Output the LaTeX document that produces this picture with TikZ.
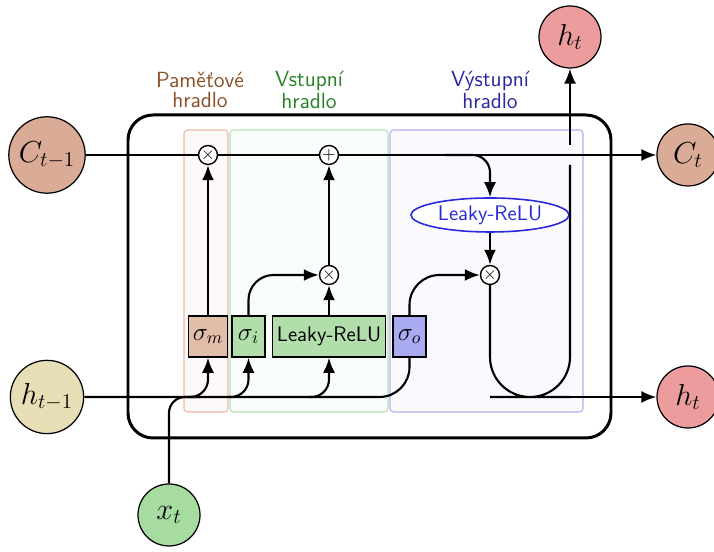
\documentclass[tikz,border=0pt]{standalone}
\usepackage{fontspec}
\usetikzlibrary{arrows.meta, shapes.geometric}

\definecolor{cellc}{RGB}{218,172,152}
\definecolor{hprev}{RGB}{232,222,182}
\definecolor{hnext}{RGB}{236,156,156}
\definecolor{xin}{RGB}{166,220,160}
\definecolor{memfill}{RGB}{226,190,170}
\definecolor{infill}{RGB}{178,222,172}
\definecolor{outfill}{RGB}{170,170,240}
\definecolor{memline}{RGB}{232,186,164}
\definecolor{inline}{RGB}{182,224,182}
\definecolor{outline}{RGB}{176,176,240}
\definecolor{memtext}{RGB}{140,80,40}
\definecolor{intext}{RGB}{40,130,40}
\definecolor{outtext}{RGB}{40,40,160}
\definecolor{reluc}{RGB}{40,40,220}

\begin{document}
\begin{tikzpicture}[line width=1.2pt, >={Latex[length=3mm,width=2.4mm]},
	state/.style={circle, draw, line width=0.7pt, minimum size=1.24cm, inner sep=3pt, font=\LARGE},
	op/.style={circle, draw, fill=white, inner sep=-1pt, minimum size=0.38cm, line width=0.8pt},
	gatebox/.style={rectangle, draw, rounded corners=2pt, line width=0.6pt},
	layer/.style={rectangle, draw, line width=0.9pt, minimum height=0.82cm, minimum width=0.66cm, inner sep=2.5pt},
	gatelabel/.style={align=center, font=\sffamily\fontsize{12.5}{11}\selectfont},
	cell/.style={rectangle, draw, rounded corners=0.5cm, line width=1.7pt}]
	\useasboundingbox (0,0) rectangle (14.28,11.04);
	
	\node (cell) at (7.39,5.51) [cell, minimum width=9.66cm, minimum height=6.46cm]{};
	\node (gm) at (4.12,5.62) [gatebox, draw=memline, fill=memline!8, minimum width=0.88cm, minimum height=5.64cm]{};
	\node (gi) at (6.18,5.62) [gatebox, draw=inline, fill=inline!8, minimum width=3.16cm, minimum height=5.64cm]{};
	\node (go) at (9.73,5.62) [gatebox, draw=outline, fill=outline!8, minimum width=3.86cm, minimum height=5.64cm]{};
	
	\node (lm) at (4.00,9.24) [gatelabel, text=memtext]{Paměťové\\hradlo};
	\node (li) at (6.18,9.24) [gatelabel, text=intext]{Vstupní\\hradlo};
	\node (lo) at (9.80,9.24) [gatelabel, text=outtext]{Výstupní\\hradlo};
	
	\node (c0) at (0.94,7.94) [state, fill=cellc]{$C_{t-1}$};
	\node (h0) at (0.94,3.10) [state, fill=hprev]{$h_{t-1}$};
	\node (x) at (3.38,0.74) [state, fill=xin]{$x_t$};
	\node (c1) at (13.76,7.94) [state, fill=cellc]{$C_t$};
	\node (h1) at (13.76,3.10) [state, fill=hnext]{$h_t$};
	\node (h2) at (11.40,10.30) [state, fill=hnext]{$h_t$};
	
	\node (mux1) at (4.16,7.94) [op]{$\times$};
	\node (add1) at (6.58,7.94) [op]{$+$};
	\node (mux2) at (6.58,5.54) [op]{$\times$};
	\node (mux3) at (9.80,5.54) [op]{$\times$};
	
	\node (sm) at (4.16,4.31) [layer, fill=memfill, font=\Large]{$\sigma_m$};
	\node (si) at (4.97,4.31) [layer, fill=infill, font=\Large]{$\sigma_i$};
	\node (relu1) at (6.58,4.31) [layer, fill=infill, font=\sffamily\large]{Leaky-ReLU};
	\node (so) at (8.19,4.31) [layer, fill=outfill, font=\Large]{$\sigma_o$};
	\node (relu2) at (9.80,6.74) [ellipse, draw=reluc, fill=white, line width=0.9pt, text=reluc, font=\sffamily\large, minimum width=3.16cm, minimum height=0.68cm, inner sep=1pt]{Leaky-ReLU};
	
	\coordinate (split) at (8.90,7.94);
	\coordinate (b0) at (4.00,3.10);
	\coordinate (b1) at (3.78,3.10);
	\coordinate (b2) at (4.58,3.10);
	\coordinate (b3) at (6.18,3.10);
	\coordinate (ucen) at (10.60,3.10);
	\coordinate (gap1) at (11.40,7.74);
	\coordinate (gap2) at (11.40,8.14);
	
	% memory line
	\draw (c0) -- (mux1);
	\draw (mux1) -- (add1);
	\draw [->] (add1) -- (c1);
	\draw [->, rounded corners=0.35cm] (split) -| (relu2);
	\draw [->] (relu2) -- (mux3);
	
	% gates
	\draw [->] (sm) -- (mux1);
	\draw [->] (relu1) -- (mux2);
	\draw [->] (mux2) -- (add1);
	\draw [->, rounded corners=0.5cm] (si) |- (mux2);
	\draw [->, rounded corners=0.6cm] (so) |- (mux3);
	
	% inputs
	\draw [rounded corners=0.6cm] (h0) -| (so);
	\draw [rounded corners=0.32cm] (x) |- (b0);
	\draw [->, rounded corners=0.35cm] (b1) -| (sm);
	\draw [->, rounded corners=0.35cm] (b2) -| (si);
	\draw [->, rounded corners=0.35cm] (b3) -| (relu1);
	
	% output
	\draw [rounded corners=0.8cm] (mux3) |- (ucen) -| (gap1);
	\draw [->] (gap2) -- (h2);
	\draw [->] (ucen) -- (h1);
	
\end{tikzpicture}
\end{document}
